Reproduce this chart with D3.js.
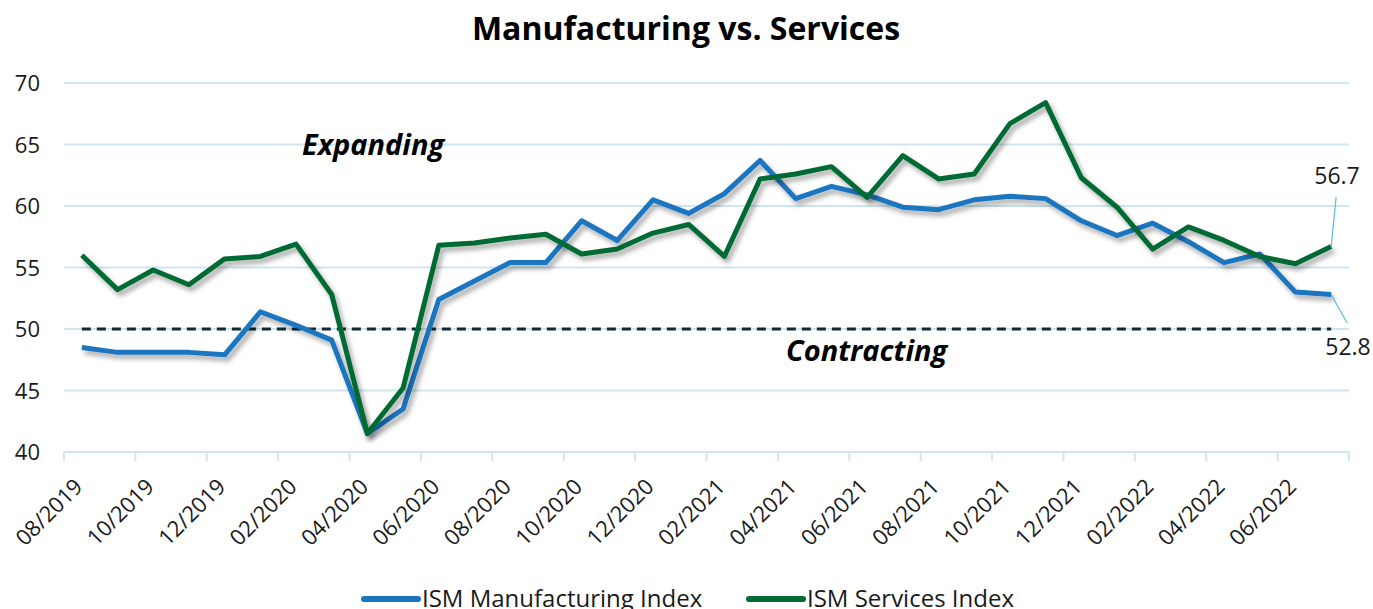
<!DOCTYPE html>
<html>
<head>
<meta charset="utf-8"/>
<title>Manufacturing vs. Services</title>
<script src="https://d3js.org/d3.v7.min.js"></script>
<style>
  body { margin: 0; background: #fff; }
  text { font-family: "Open Sans", sans-serif; }
</style>
</head>
<body>
<script>
// months 08/2019 .. 07/2022
var months = [];
for (var m = 0; m < 36; m++) {
  var mo = (7 + m) % 12 + 1, yr = 2019 + Math.floor((7 + m) / 12);
  months.push((mo < 10 ? "0" : "") + mo + "/" + yr);
}
var manufacturing = [48.5, 48.1, 48.1, 48.1, 47.9, 51.4, 50.3, 49.1, 41.5, 43.5, 52.4, 53.9,
                     55.4, 55.4, 58.8, 57.2, 60.5, 59.4, 61.0, 63.7, 60.6, 61.6, 60.9, 59.9,
                     59.7, 60.5, 60.8, 60.6, 58.8, 57.6, 58.6, 57.1, 55.4, 56.1, 53.0, 52.8];
var services = [56.0, 53.2, 54.8, 53.6, 55.7, 55.9, 56.9, 52.8, 41.5, 45.2, 56.8, 57.0,
                57.4, 57.7, 56.1, 56.5, 57.8, 58.5, 55.9, 62.2, 62.6, 63.2, 60.7, 64.1,
                62.2, 62.6, 66.7, 68.4, 62.3, 59.9, 56.5, 58.3, 57.2, 55.9, 55.3, 56.7];
var yTicks = [40, 45, 50, 55, 60, 65, 70];

var W = 1373, H = 609;
var pLeft = 64, pRight = 1349, pTop = 83, pBottom = 452;

var svg = d3.select("body").append("svg").attr("width", W).attr("height", H);

var defs = svg.append("defs");
var f = defs.append("filter").attr("id", "shadow").attr("x", "-5%").attr("y", "-20%")
  .attr("width", "110%").attr("height", "140%");
f.append("feDropShadow").attr("dx", 3).attr("dy", 4).attr("stdDeviation", 2.5)
  .attr("flood-color", "#000").attr("flood-opacity", 0.35);

var x = d3.scaleBand().domain(months).range([pLeft, pRight]).padding(0);
var y = d3.scaleLinear().domain([40, 70]).range([pBottom, pTop]);

// title
svg.append("text").attr("x", 686).attr("y", 40).attr("text-anchor", "middle")
  .style("font-size", "32px").style("font-weight", "bold").text("Manufacturing vs. Services");

// gridlines
svg.append("g").selectAll("line").data(yTicks).join("line")
  .attr("x1", pLeft).attr("x2", pRight)
  .attr("y1", function(d){ return y(d); }).attr("y2", function(d){ return y(d); })
  .attr("stroke", "#cde6f1").attr("stroke-width", 2);

// y labels
svg.append("g").selectAll("text").data(yTicks).join("text")
  .attr("x", 40).attr("y", function(d){ return y(d) + 8; })
  .attr("text-anchor", "end").style("font-size", "22px").attr("fill", "#1a1a1a")
  .text(function(d){ return d; });

// x tick marks at band edges every two months
var tickMonths = months.filter(function(d, i){ return i % 2 === 0; });
var edges = tickMonths.map(function(d){ return x(d); }).concat([pRight]);
svg.append("g").selectAll("line").data(edges).join("line")
  .attr("x1", function(d){ return d; }).attr("x2", function(d){ return d; })
  .attr("y1", pBottom).attr("y2", pBottom + 9)
  .attr("stroke", "#cde6f1").attr("stroke-width", 2);

svg.append("g").selectAll("text").data(tickMonths).join("text")
  .attr("transform", function(d){ return "translate(" + (x(d) + 20) + "," + (pBottom + 36) + ") rotate(-45)"; })
  .attr("text-anchor", "end").style("font-size", "22px").attr("fill", "#1a1a1a")
  .text(function(d){ return d; });

// 50 line
svg.append("line").attr("x1", x(months[0]) + x.bandwidth()/2).attr("x2", x(months[35]) + x.bandwidth()/2)
  .attr("y1", y(50)).attr("y2", y(50))
  .attr("stroke", "#0e2a36").attr("stroke-width", 3).attr("stroke-dasharray", "9,6");

// annotations
svg.append("text").attr("x", 302).attr("y", 155).style("font-size", "29px")
  .style("font-weight", "bold").style("font-style", "italic").text("Expanding");
svg.append("text").attr("x", 786).attr("y", 361).style("font-size", "29px")
  .style("font-weight", "bold").style("font-style", "italic").text("Contracting");

var line = d3.line()
  .x(function(d, i){ return x(months[i]) + x.bandwidth()/2; })
  .y(function(d){ return y(d); });

var blue = "#1a75bf", green = "#056a34";

svg.append("path").datum(manufacturing).attr("d", line).attr("fill", "none")
  .attr("stroke", blue).attr("stroke-width", 5).attr("stroke-linejoin", "round")
  .attr("filter", "url(#shadow)");
svg.append("path").datum(services).attr("d", line).attr("fill", "none")
  .attr("stroke", green).attr("stroke-width", 5).attr("stroke-linejoin", "round")
  .attr("filter", "url(#shadow)");

// end labels with leader lines
var lastX = x(months[35]) + x.bandwidth()/2;
svg.append("line").attr("x1", lastX).attr("y1", y(services[35])).attr("x2", lastX + 5).attr("y2", 197)
  .attr("stroke", "#5cb8dc").attr("stroke-width", 1.2);
svg.append("text").attr("x", 1337).attr("y", 184).attr("text-anchor", "middle")
  .style("font-size", "23px").attr("fill", "#1a1a1a").text(services[35].toFixed(1));
svg.append("line").attr("x1", lastX).attr("y1", y(manufacturing[35])).attr("x2", lastX + 16).attr("y2", 323)
  .attr("stroke", "#5cb8dc").attr("stroke-width", 1.2);
svg.append("text").attr("x", 1348).attr("y", 355).attr("text-anchor", "middle")
  .style("font-size", "23px").attr("fill", "#1a1a1a").text(manufacturing[35].toFixed(1));

// legend
var legend = [{name: "ISM Manufacturing Index", color: blue, x: 364},
              {name: "ISM Services Index", color: green, x: 749}];
var lg = svg.append("g").selectAll("g").data(legend).join("g");
lg.append("line").attr("x1", function(d){ return d.x; }).attr("x2", function(d){ return d.x + 54; })
  .attr("y1", 599).attr("y2", 599).attr("stroke", function(d){ return d.color; })
  .attr("stroke-width", 6).attr("stroke-linecap", "round");
lg.append("text").attr("x", function(d){ return d.x + 58; }).attr("y", 607)
  .style("font-size", "24px").attr("fill", "#1a1a1a").text(function(d){ return d.name; });
</script>
</body>
</html>
